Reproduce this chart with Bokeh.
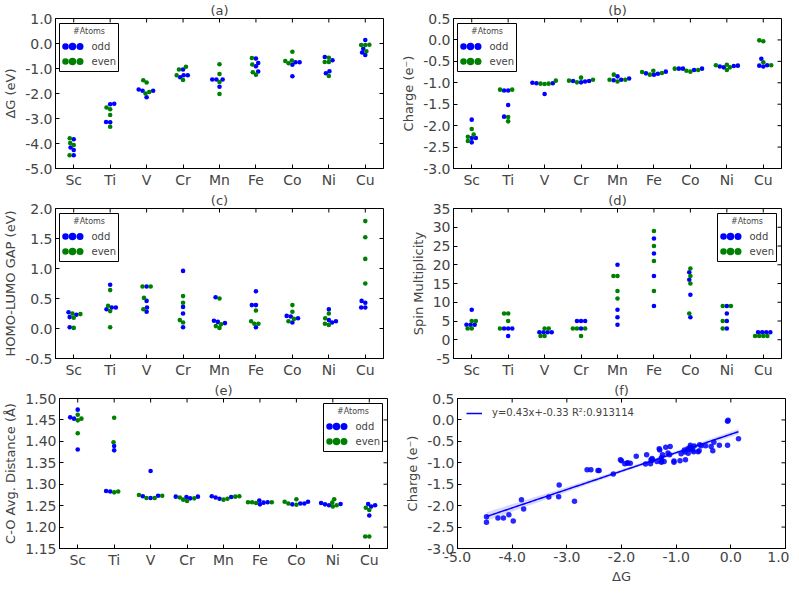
import numpy as np
from bokeh.plotting import figure
from bokeh.models import (FixedTicker, PrintfTickFormatter, BoxAnnotation,
                          Label, Range1d, Legend, LegendItem)
from bokeh.layouts import column, row
from bokeh.embed import file_html
from bokeh.resources import INLINE

# ---------------- data ----------------
elements = ["Sc", "Ti", "V", "Cr", "Mn", "Fe", "Co", "Ni", "Cu"]

dg_odd = [[-3.83, -4.16, -4.26, -4.47], [-2.41, -2.43, -3.14, -3.15], [-1.84, -1.89, -1.89, -2.15],
          [-1.04, -1.27, -1.35, -1.27], [-1.44, -1.44, -1.44, -1.73], [-0.60, -0.78, -0.91, -1.12],
          [-0.75, -0.75, -0.85, -1.31], [-0.54, -0.67, -1.11, -1.19], [0.14, -0.21, -0.36, -0.46]]
dg_even = [[-3.79, -3.98, -4.06, -4.47], [-2.56, -2.63, -2.86, -3.33], [-1.47, -1.56, -1.94, -2.00],
           [-0.93, -1.04, -1.27, -1.46], [-0.83, -1.22, -1.54, -2.02], [-0.58, -0.84, -1.15, -1.25],
           [-0.33, -0.68, -0.70, -0.79], [-0.57, -0.74, -0.74, -1.30], [-0.05, -0.06, -0.31, -0.06]]

chg_odd = [[-1.86, -2.29, -2.29, -2.39], [-1.18, -1.18, -1.52, -1.79], [-1.01, -1.01, -1.00, -1.26],
           [-0.96, -0.99, -0.97, -0.96], [-0.93, -0.94, -0.90, -0.85], [-0.74, -0.78, -0.79, -0.81],
           [-0.67, -0.67, -0.70, -0.67], [-0.60, -0.61, -0.62, -0.64], [-0.44, -0.59, -0.62, -0.60]]
chg_even = [[-2.08, -2.36, -2.21, -2.26], [-1.16, -1.16, -1.90, -1.80], [-1.02, -1.03, -1.02, -0.95],
            [-0.95, -0.99, -0.88, -0.93], [-0.93, -0.97, -0.81, -0.93], [-0.72, -0.75, -0.77, -0.81],
            [-0.72, -0.74, -0.70, -0.67], [-0.58, -0.59, -0.64, -0.70], [-0.01, -0.03, -0.52, -0.59]]

gap_odd = [[0.19, 0.23, 0.27, 0.02], [0.73, 0.32, 0.35, 0.35], [0.70, 0.46, 0.35, 0.28],
           [0.96, 0.36, 0.25, 0.02], [0.52, 0.11, 0.13, 0.09], [0.62, 0.39, 0.39, 0.02],
           [0.20, 0.17, 0.21, 0.10], [0.32, 0.14, 0.12, 0.10], [0.46, 0.43, 0.35, 0.35]]
gap_even = [[0.24, 0.25, 0.18, 0.01], [0.64, 0.38, 0.29, 0.02], [0.70, 0.70, 0.51, 0.32],
            [0.54, 0.43, 0.14, 0.10], [0.50, 0.04, 0.07, 0.01], [0.30, 0.08, 0.08, 0.12],
            [0.39, 0.28, 0.16, 0.12], [0.25, 0.17, 0.08, 0.06], [1.79, 1.52, 1.16, 0.75]]

spin_odd = [[8, 4, 4, 4], [3, 3, 3, 1], [2, 2, 2, 2], [5, 5, 5, 3], [20, 8, 6, 4],
            [27, 23, 17, 9], [18, 16, 12, 6], [9, 7, 5, 3], [2, 2, 2, 2]]
spin_even = [[5, 5, 3, 3], [7, 7, 5, 3], [3, 3, 1, 1], [3, 3, 3, 1], [17, 17, 13, 11],
             [29, 25, 21, 13], [19, 17, 15, 7], [9, 9, 5, 3], [1, 1, 1, 1]]

dist_odd = [[1.474, 1.453, 1.456, 1.381], [1.389, 1.379, 1.283, 1.284], [1.331, 1.272, 1.268, 1.273],
            [1.271, 1.270, 1.267, 1.271], [1.272, 1.269, 1.266, 1.270], [1.258, 1.262, 1.253, 1.257],
            [1.253, 1.255, 1.255, 1.259], [1.254, 1.251, 1.253, 1.256], [1.254, 1.251, 1.248, 1.227]]
dist_even = [[1.462, 1.453, 1.449, 1.419], [1.455, 1.398, 1.281, 1.283], [1.275, 1.268, 1.268, 1.273],
             [1.269, 1.264, 1.261, 1.267], [1.264, 1.266, 1.271, 1.272], [1.258, 1.256, 1.258, 1.258],
             [1.259, 1.255, 1.265, 1.252], [1.265, 1.257, 1.248, 1.251], [1.245, 1.240, 1.178, 1.178]]

FIT_LABEL = "y=0.43x+-0.33 R\u00b2:0.913114"
LEGEND_TITLE = "#Atoms"
LEGEND_LABELS = ["odd", "even"]

# ---------------- style ----------------
BLUE = "#0000ff"
GREEN = "#008000"
FONT = "DejaVu Sans"
FW, FH = 328, 150
D = 3.9          # swarm spacing (px)
DOT = 4.6        # swarm marker diameter (px)
TICK = 4         # tick length (px)


def swarm(vals_px, d):
    order = np.argsort(vals_px, kind="stable")
    placed = []
    off = np.zeros(len(vals_px))
    for idx in order:
        y = vals_px[idx]
        neigh = [(px, py) for px, py in placed if abs(py - y) < d]
        cands = [0.0]
        for px, py in neigh:
            dx = np.sqrt(max(d * d - (y - py) ** 2, 0.0)) * 1.05
            cands += [px - dx, px + dx]
        cands = sorted(cands, key=lambda c: abs(c))
        chosen = cands[-1]
        for c in cands:
            if all((c - px) ** 2 + (y - py) ** 2 >= d * d * 0.999 for px, py in neigh):
                chosen = c
                break
        placed.append((chosen, y))
        off[idx] = chosen
    return off


def base_fig(title, x0, x1, y0, y1, mbl, mbr):
    p = figure(frame_width=FW, frame_height=FH, x_range=Range1d(x0, x1), y_range=Range1d(y0, y1),
               output_backend="svg", toolbar_location=None, title=title,
               min_border_left=mbl, min_border_right=mbr, min_border_top=0, min_border_bottom=0)
    p.title.align = "center"
    p.title.text_font = FONT
    p.title.text_font_size = "13px"
    p.title.text_font_style = "normal"
    p.title.standoff = 1
    p.title.offset = 0
    p.grid.visible = False
    p.outline_line_color = "black"
    p.outline_line_width = 1
    p.background_fill_color = "white"
    return p


def style_axes(p, xticks, yticks, x0, x1, y0, y1, yfmt, xfmt=None, xover=None):
    xa = p.below[0]
    ya = p.left[0]
    xa.ticker = FixedTicker(ticks=xticks)
    ya.ticker = FixedTicker(ticks=yticks)
    if xover is not None:
        xa.major_label_overrides = xover
    else:
        xa.formatter = PrintfTickFormatter(format=xfmt)
    ya.formatter = PrintfTickFormatter(format=yfmt)
    for ax in (xa, ya):
        ax.major_tick_in = TICK
        ax.major_tick_out = 0
        ax.minor_tick_in = 0
        ax.minor_tick_out = 0
        ax.axis_line_color = "black"
        ax.major_label_text_font = FONT
        ax.major_label_text_font_size = "14px"
        ax.major_label_standoff = 3
        ax.axis_label_text_font = FONT
        ax.axis_label_text_font_size = "13px"
        ax.axis_label_text_font_style = "normal"
        ax.axis_label_standoff = 4
    # inward ticks on the top and right edges of the frame
    ty = TICK * (y1 - y0) / FH
    tx = TICK * (x1 - x0) / FW
    p.segment(x0=xticks, y0=[y1] * len(xticks), x1=xticks, y1=[y1 - ty] * len(xticks),
              line_color="black", line_width=1)
    p.segment(x0=[x1] * len(yticks), y0=yticks, x1=[x1 - tx] * len(yticks), y1=yticks,
              line_color="black", line_width=1)
    return xa, ya


def atoms_legend(p, x0, x1, y0, y1, side):
    sx = (x1 - x0) / FW
    sy = (y1 - y0) / FH
    bw, bh = 59, 48
    left_px = 4 if side == "left" else FW - 5 - bw
    L = x0 + left_px * sx
    R = L + bw * sx
    T = y1 - 5 * sy
    B = T - bh * sy
    p.add_layout(BoxAnnotation(left=L, right=R, top=T, bottom=B, fill_color="white", fill_alpha=1.0,
                               line_color="black", line_width=1, line_alpha=1.0, level="annotation"))
    p.add_layout(Label(x=L + bw / 2 * sx, y=T - 8 * sy, text=LEGEND_TITLE, text_font=FONT,
                       text_font_size="8px", text_align="center", text_baseline="middle",
                       level="overlay"))
    for k, (col, lab) in enumerate(zip([BLUE, GREEN], LEGEND_LABELS)):
        yy = T - (23 + 15 * k) * sy
        p.scatter(x=[L + 6 * sx, L + 13 * sx, L + 20.5 * sx], y=[yy, yy, yy], size=[6.5, 7.5, 7.0],
                  color=col, line_color=None, level="overlay")
        p.add_layout(Label(x=L + 32 * sx, y=yy, text=lab, text_font=FONT, text_font_size="10px",
                           text_align="left", text_baseline="middle", level="overlay"))


def swarm_panel(title, ylabel, odd, even, y0, y1, yticks, yfmt, side, mbl, mbr):
    x0, x1 = -0.5, len(elements) - 0.5
    p = base_fig(title, x0, x1, y0, y1, mbl, mbr)
    ypx = FH / (y1 - y0)
    xpx = FW / (x1 - x0)
    ox, oy, ex, ey = [], [], [], []
    for i in range(len(elements)):
        vals = list(odd[i]) + list(even[i])
        off = swarm(np.array(vals, dtype=float) * ypx, D)
        n = len(odd[i])
        for j, v in enumerate(vals):
            if j < n:
                ox.append(i + off[j] / xpx); oy.append(v)
            else:
                ex.append(i + off[j] / xpx); ey.append(v)
    p.scatter(ox, oy, size=DOT, color=BLUE, line_color=None)
    p.scatter(ex, ey, size=DOT, color=GREEN, line_color=None)
    xa, ya = style_axes(p, list(range(len(elements))), yticks, x0, x1, y0, y1, yfmt,
                        xover={i: e for i, e in enumerate(elements)})
    ya.axis_label = ylabel
    atoms_legend(p, x0, x1, y0, y1, side)
    return p


LBL, LBR = 50, 14
RBL, RBR = 56, 4

pa = swarm_panel("(a)", "\u0394G (eV)", dg_odd, dg_even, -5.0, 1.0,
                 [-5.0, -4.0, -3.0, -2.0, -1.0, 0.0, 1.0], "%.1f", "left", LBL, LBR)
pb = swarm_panel("(b)", "Charge (e\u207b)", chg_odd, chg_even, -3.0, 0.5,
                 [-3.0, -2.5, -2.0, -1.5, -1.0, -0.5, 0.0, 0.5], "%.1f", "left", RBL, RBR)
pc = swarm_panel("(c)", "HOMO-LUMO GAP (eV)", gap_odd, gap_even, -0.5, 2.0,
                 [-0.5, 0.0, 0.5, 1.0, 1.5, 2.0], "%.1f", "left", LBL, LBR)
pd = swarm_panel("(d)", "Spin Multiplicity", spin_odd, spin_even, -5, 35,
                 [-5, 0, 5, 10, 15, 20, 25, 30, 35], "%d", "right", RBL, RBR)
pe = swarm_panel("(e)", "C-O Avg. Distance (\u00c5)", dist_odd, dist_even, 1.15, 1.50,
                 [1.15, 1.20, 1.25, 1.30, 1.35, 1.40, 1.45, 1.50], "%.2f", "right", LBL, LBR)

# ---------------- (f) regression ----------------
xs_all = np.array([v for grp in dg_odd + dg_even for v in grp], dtype=float)
ys_all = np.array([v for grp in chg_odd + chg_even for v in grp], dtype=float)
slope, intercept = np.polyfit(xs_all, ys_all, 1)
n = len(xs_all)
resid = ys_all - (slope * xs_all + intercept)
s = np.sqrt(np.sum(resid ** 2) / (n - 2))
xm = xs_all.mean()
sxx = np.sum((xs_all - xm) ** 2)
grid = np.linspace(xs_all.min(), xs_all.max(), 100)
fit = slope * grid + intercept
half = 1.994 * s * np.sqrt(1.0 / n + (grid - xm) ** 2 / sxx)

fx0, fx1, fy0, fy1 = -5.0, 1.0, -3.0, 0.5
pf = base_fig("(f)", fx0, fx1, fy0, fy1, RBL, RBR)
pf.varea(x=grid, y1=fit - half, y2=fit + half, fill_color=BLUE, fill_alpha=0.15)
ln = pf.line(grid, fit, line_color=BLUE, line_width=1.5)
pf.scatter(xs_all, ys_all, size=5.5, color=BLUE, line_color=None, alpha=0.85)
fxa, fya = style_axes(pf, [-5.0, -4.0, -3.0, -2.0, -1.0, 0.0, 1.0],
                      [-3.0, -2.5, -2.0, -1.5, -1.0, -0.5, 0.0, 0.5], fx0, fx1, fy0, fy1,
                      "%.1f", xfmt="%.1f")
fya.axis_label = "Charge (e\u207b)"
fxa.axis_label = "\u0394G"
leg = Legend(items=[LegendItem(label=FIT_LABEL, renderers=[ln])], location="top_left",
             border_line_color=None, background_fill_alpha=0.0, label_text_font=FONT,
             label_text_font_size="10px", glyph_width=16, glyph_height=10, label_standoff=10,
             margin=9, padding=4)
pf.add_layout(leg)

layout = column(row(pa, pb), row(pc, pd), row(pe, pf))
open("out.html", "w").write(file_html(layout, INLINE))
